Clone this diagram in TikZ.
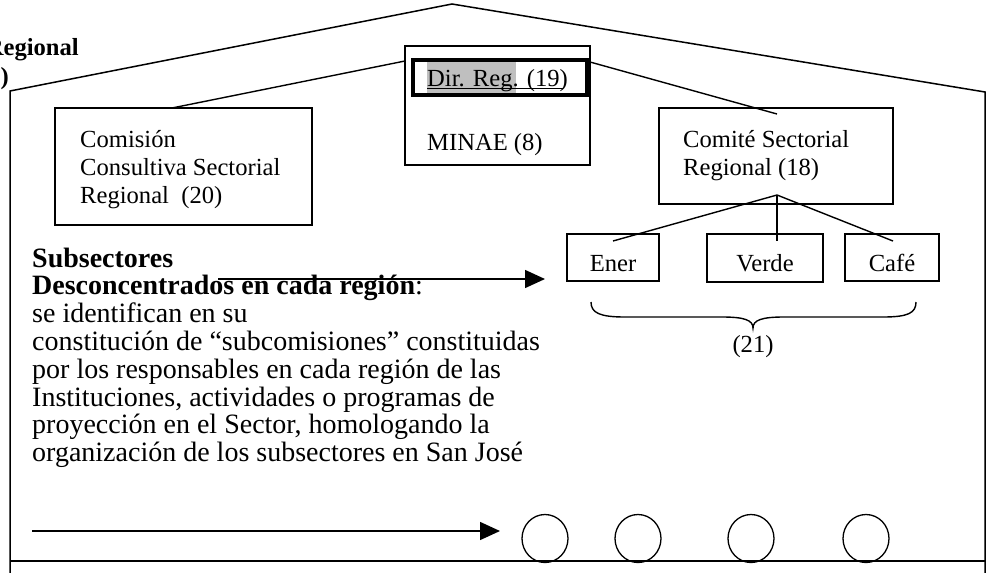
\documentclass[tikz,border=0pt]{standalone}
\usepackage{fontspec}
\setmainfont{Liberation Serif}
\usetikzlibrary{arrows.meta,shapes.geometric}
\newcommand\boxfont{\fontsize{24.6}{28}\selectfont}
\newcommand\parfont{\fontsize{28}{28}\selectfont}
\definecolor{hlgray}{HTML}{BFBFBF}
\tikzset{
  outline/.style={line width=1.5pt, line join=miter},
  boxshape/.style={draw, line width=1.3pt, inner sep=0pt},
  thickbox/.style={draw, line width=3.5pt, inner sep=0pt},
  conn/.style={line width=1.4pt},
  arrowline/.style={line width=1.5pt, -{Triangle[length=20pt,width=18pt]}},
  btxt/.style={anchor=base west, inner sep=0pt, font=\boxfont},
  ctxt/.style={anchor=base, inner sep=0pt, font=\boxfont},
  ptxt/.style={anchor=base west, inner sep=0pt, font=\parfont},
  ringshape/.style={draw, line width=1.3pt, ellipse, minimum width=46pt, minimum height=48pt, inner sep=0pt},
}
\begin{document}
\begin{tikzpicture}[x=1pt,y=-1pt]
\useasboundingbox (0,0) rectangle (986,573);
% house outline
\coordinate (wallLb) at (10,573);
\coordinate (roofL) at (10,91);
\coordinate (apex) at (452,4);
\coordinate (roofR) at (985,92);
\coordinate (wallRb) at (985,573);
\draw[outline] (wallLb) -- (roofL) -- (apex) -- (roofR) -- (wallRb);
\coordinate (floorL) at (10,561);
\coordinate (floorR) at (986,561);
\draw[outline] (floorL) -- (floorR);
% top-left cut texts
\node[anchor=base east, inner sep=0pt, font=\boxfont\bfseries] (regtop) at (79,55) {Regional};
\node[anchor=base east, inner sep=0pt, font=\boxfont\bfseries] (numtop) at (9,84) {0)};
% Comision box
\node[boxshape, minimum width=257pt, minimum height=117pt] (comision) at (183.5,166.5) {};
\node[btxt] (com1) at (80,147) {Comisión};
\node[btxt] (com2) at (80,175) {Consultiva Sectorial};
\node[btxt] (com3) at (80,203) {Regional~~(20)};
% MINAE box
\node[boxshape, minimum width=185pt, minimum height=119pt] (minae) at (497.5,105.5) {};
\node[thickbox, minimum width=174pt, minimum height=35pt] (dirreg) at (500,77.5) {};
\fill[hlgray] (427,62) rectangle (516,93);
\node[btxt] (dirtxt) at (427,86) {Dir. Reg. (19)};
\coordinate (ulA) at (427,88.5);
\coordinate (ulB) at (563,88.5);
\draw[line width=1.2pt] (ulA) -- (ulB);
\node[btxt] (minaetxt) at (427,150) {MINAE (8)};
% Comite box
\node[boxshape, minimum width=234pt, minimum height=96pt] (comite) at (776,156) {};
\node[btxt] (cs1) at (683,147) {Comité Sectorial};
\node[btxt] (cs2) at (683,175) {Regional (18)};
% inner roof connectors
\coordinate (c1a) at (172,108);
\coordinate (c1b) at (405,61);
\coordinate (c2a) at (590,62);
\coordinate (c2b) at (777,114);
\draw[conn] (c1a) -- (c1b);
\draw[conn] (c2a) -- (c2b);
% sub boxes
\node[boxshape, minimum width=92pt, minimum height=47pt] (ener) at (613,257.5) {};
\node[boxshape, minimum width=116pt, minimum height=48pt] (verde) at (765,258) {};
\node[boxshape, minimum width=94pt, minimum height=47pt] (cafe) at (892,257.5) {};
\node[ctxt] (enertxt) at (613,271) {Ener};
\node[ctxt] (verdetxt) at (765,271) {Verde};
\node[ctxt] (cafetxt) at (892,271) {Café};
\coordinate (hub) at (777,195);
\coordinate (enerin) at (613,241);
\coordinate (verdein) at (777,241);
\coordinate (cafein) at (893,241);
\draw[conn] (hub) -- (enerin);
\draw[conn] (hub) -- (verdein);
\draw[conn] (hub) -- (cafein);
% brace
\coordinate (brL) at (591,302);
\coordinate (brT) at (753,328);
\coordinate (brR) at (916,302);
\draw[conn] (brL) .. controls (591,313) and (600,317) .. (625,317) -- (722,317)
  .. controls (744,317) and (753,320) .. (brT)
  .. controls (753,320) and (762,317) .. (784,317) -- (883,317)
  .. controls (908,317) and (916,313) .. (brR);
\node[ctxt] (n21) at (753,352) {(21)};
% arrows
\coordinate (a1s) at (218,279);
\coordinate (a1e) at (545,279);
\draw[arrowline] (a1s) -- (a1e);
\coordinate (a2s) at (32,531);
\coordinate (a2e) at (500,531);
\draw[arrowline] (a2s) -- (a2e);
% circles
\foreach \cx [count=\i] in {545,638,751,866}
  \node[ringshape] (circ\i) at (\cx,538.5) {};
% paragraph
\node[ptxt, font=\parfont\bfseries] (p1) at (32,267) {Subsectores};
\node[ptxt] (p2) at (32,294.8) {\textbf{Desconcentrados en cada región}:};
\node[ptxt] (p3) at (32,322.6) {se identifican en su};
\node[ptxt] (p4) at (32,350.4) {constitución de “subcomisiones” constituidas};
\node[ptxt] (p5) at (32,378.2) {por los responsables en cada región de las};
\node[ptxt] (p6) at (32,406) {Instituciones, actividades o programas de};
\node[ptxt] (p7) at (32,433.8) {proyección en el Sector, homologando la};
\node[ptxt] (p8) at (32,461.6) {organización de los subsectores en San José};
\end{tikzpicture}
\end{document}
